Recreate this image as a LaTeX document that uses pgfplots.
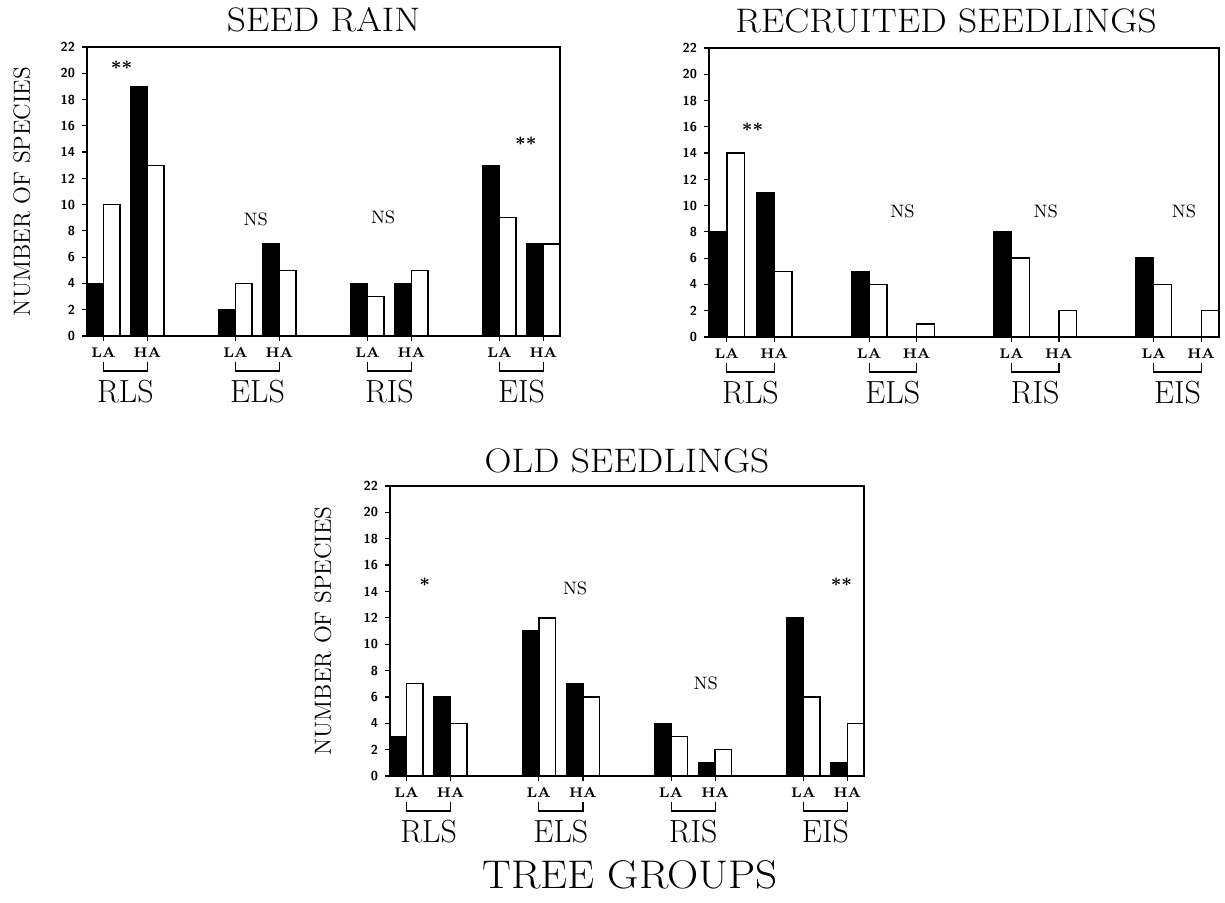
\documentclass[border=0pt]{standalone}
\usepackage{graphicx}
\usepackage{pgfplots}
\pgfplotsset{compat=1.18}
\def\u{0.5pt}
% #1 LA position, #2 midpoint, #3 HA position, #4 group name
\newcommand\grp[4]{%
  \draw[line width=0.6pt] ([yshift=-26*\u]axis cs:#1,0) -- ([yshift=-35*\u]axis cs:#1,0) -- ([yshift=-35*\u]axis cs:#3,0) -- ([yshift=-26*\u]axis cs:#3,0);
  \node[anchor=base, font=\fontsize{16}{16}\selectfont, inner sep=0pt] at ([yshift=-67*\u]axis cs:#2,0) {#4};
}
\newcommand\groups{%
  \grp{0}{1.333}{2.667}{RLS}
  \grp{8}{9.333}{10.667}{ELS}
  \grp{16}{17.333}{18.667}{RIS}
  \grp{24}{25.333}{26.667}{EIS}
}
\newcommand\ttl[1]{\scalebox{1.1}[1]{#1}}
\tikzset{
  ns/.style={font=\fontsize{9}{9}\selectfont},
  st/.style={font=\fontsize{9}{9}\selectfont\bfseries},
}
\pgfplotsset{
  panel/.style={
    scale only axis, anchor=south west, clip=false,
    xmin=-1, xmax=27.667, ymin=0, ymax=22,
    ytick={0,2,...,22},
    xtick={0,2.667,8,10.667,16,18.667,24,26.667},
    xticklabels={LA,HA,LA,HA,LA,HA,LA,HA},
    tick align=outside, xtick pos=bottom, ytick pos=left,
    major tick length=2.5pt,
    axis line style={line width=0.7pt},
    every tick/.style={black, line width=0.6pt},
    ybar, bar width=1,
    xticklabel style={font=\fontsize{7}{7}\selectfont\bfseries, anchor=base, yshift=-8.5pt},
    yticklabel style={font=\fontsize{6.5}{6.5}\selectfont\sffamily\bfseries},
    /pgf/number format/assume math mode=true,
    title style={font=\fontsize{17}{17}\selectfont, anchor=south, inner sep=0pt, at={(0.5,1)}, yshift=1.5pt},
  },
  blk/.style={fill=black, draw=black, line width=0.7pt, bar shift=-0.5},
  wht/.style={fill=white, draw=black, line width=0.7pt, bar shift=0.5},
}
\begin{document}
\begin{tikzpicture}
% ---------------- SEED RAIN ----------------
\begin{axis}[panel, at={(43.5pt,283.5pt)}, width=236.5pt, height=144.5pt, title={\ttl{SEED RAIN}}]
\addplot[blk] coordinates {(0,4) (2.667,19) (8,2) (10.667,7) (16,4) (18.667,4) (24,13) (26.667,7)};
\addplot[wht] coordinates {(0,10) (2.667,13) (8,4) (10.667,5) (16,3) (18.667,5) (24,9) (26.667,7)};
\node[st] at (axis cs:1.1,20.4) {**};
\node[ns] at (axis cs:9.23,8.86) {NS};
\node[ns] at (axis cs:16.95,9.0) {NS};
\node[st] at (axis cs:25.6,14.65) {**};
\node[rotate=90, font=\fontsize{11.7}{11.7}\selectfont] at ([xshift=-32.5pt]rel axis cs:0,0.5) {NUMBER OF SPECIES};
\groups
\end{axis}
% ---------------- RECRUITED SEEDLINGS ----------------
\begin{axis}[panel, at={(354.5pt,283pt)}, width=255pt, height=144.5pt, title={\ttl{RECRUITED SEEDLINGS}}, title style={xshift=-9pt}]
\addplot[blk] coordinates {(0,8) (2.667,11) (8,5) (10.667,0) (16,8) (18.667,0) (24,6) (26.667,0)};
\addplot[wht] coordinates {(0,14) (2.667,5) (8,4) (10.667,1) (16,6) (18.667,2) (24,4) (26.667,2)};
\node[st] at (axis cs:1.45,15.75) {**};
\node[ns] at (axis cs:9.88,9.55) {NS};
\node[ns] at (axis cs:17.93,9.55) {NS};
\node[ns] at (axis cs:25.7,9.55) {NS};
\groups
\end{axis}
% ---------------- OLD SEEDLINGS ----------------
\begin{axis}[panel, at={(195pt,63.5pt)}, width=237pt, height=145pt, title={\ttl{OLD SEEDLINGS}}, title style={yshift=-1pt}]
\addplot[blk] coordinates {(0,3) (2.667,6) (8,11) (10.667,7) (16,4) (18.667,1) (24,12) (26.667,1)};
\addplot[wht] coordinates {(0,7) (2.667,4) (8,12) (10.667,6) (16,3) (18.667,2) (24,6) (26.667,4)};
\node[st] at (axis cs:1.1,14.5) {*};
\node[ns] at (axis cs:10.2,14.2) {NS};
\node[ns] at (axis cs:18.1,7.06) {NS};
\node[st] at (axis cs:26.3,14.5) {**};
\node[rotate=90, font=\fontsize{11.7}{11.7}\selectfont] at ([xshift=-33.5pt]rel axis cs:0,0.5) {NUMBER OF SPECIES};
\groups
\end{axis}
\node[anchor=base, font=\fontsize{20}{20}\selectfont, inner sep=0pt] at (315pt,7pt) {\scalebox{1.08}[1]{TREE GROUPS}};
\pgfresetboundingbox
\path (0,0) rectangle (612.5pt,451.5pt);
\end{tikzpicture}
\end{document}
